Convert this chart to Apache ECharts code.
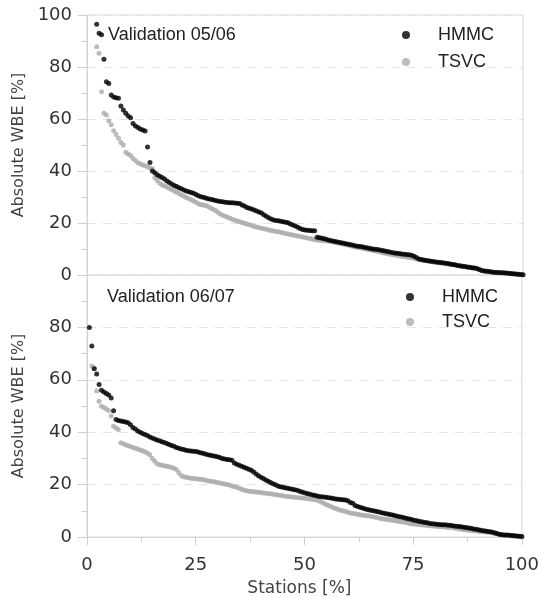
<!DOCTYPE html>
<html>
<head>
<meta charset="utf-8">
<script src="https://cdn.jsdelivr.net/npm/echarts@6/dist/echarts.min.js"></script>
<style>
html,body{margin:0;padding:0;background:#fff;}
#chart{width:542px;height:598px;}
</style>
</head>
<body>
<div id="chart"></div>
<script>
// Panel titles and series names
const panelTitles = ['Validation 05/06', 'Validation 06/07'];
const seriesNames = ['HMMC', 'TSVC'];
const xTicks = [0, 25, 50, 75, 100];
const yTicks = [0, 20, 40, 60, 80, 100];

// Absolute WBE [%] per station, sorted descending (station rank -> % of stations)
const topHMMC = [
  140, 120, 103, 96.4, 93.0, 92.4, 83.0, 74.3, 73.7, 69.2,
  68.5, 68.2, 68.0, 65.0, 63.5, 62.2, 61.2, 60.5, 58.3, 57.3,
  56.7, 56.2, 55.8, 55.4, 49.2, 43.3, 40.0, 39.3, 38.6, 38.0,
  37.5, 36.9, 36.2, 35.6, 35.0, 34.4, 34.0, 33.6, 33.2, 32.7,
  32.3, 32.0, 31.7, 31.4, 31.0, 30.5, 30.1, 29.9, 29.6, 29.3,
  29.1, 28.9, 28.7, 28.5, 28.3, 28.2, 28.0, 27.9, 27.8, 27.8,
  27.7, 27.6, 27.5, 26.9, 26.5, 26.0, 25.7, 25.4, 25.0, 24.6,
  24.2, 23.8, 23.2, 22.6, 22.0, 21.5, 21.2, 21.0, 20.9, 20.7,
  20.5, 20.3, 20.1, 19.6, 19.2, 18.8, 18.4, 17.9, 17.5, 17.3,
  17.2, 17.1, 17.0, 17.0, 14.5, 14.3, 14.1, 13.9, 13.7, 13.4,
  13.2, 13.0, 12.8, 12.6, 12.4, 12.2, 12.0, 11.8, 11.6, 11.4,
  11.2, 11.1, 11.0, 10.8, 10.6, 10.4, 10.2, 10.0, 9.9, 9.8,
  9.6, 9.4, 9.2, 9.0, 8.8, 8.7, 8.5, 8.4, 8.3, 8.1,
  8.0, 7.9, 7.8, 7.6, 7.2, 6.7, 6.2, 6.0, 5.8, 5.6,
  5.5, 5.3, 5.2, 5.0, 4.9, 4.8, 4.7, 4.5, 4.4, 4.2,
  4.0, 3.9, 3.7, 3.6, 3.4, 3.3, 3.1, 3.0, 2.8, 2.7,
  2.5, 2.1, 1.7, 1.5, 1.4, 1.3, 1.2, 1.1, 1.0, 1.0,
  0.9, 0.9, 0.8, 0.7, 0.6, 0.5, 0.4, 0.3, 0.2, 0.1
];
const topTSVC = [
  135, 118, 104, 87.8, 85.3, 70.5, 62.2, 61.5, 59.3, 57.8,
  55.5, 54.0, 52.6, 51.0, 50.0, 47.2, 46.5, 46.0, 44.8, 44.0,
  43.2, 42.8, 42.3, 42.0, 41.6, 41.2, 40.9, 37.4, 36.3, 35.3,
  34.6, 34.2, 33.8, 33.3, 32.8, 32.3, 31.8, 31.3, 30.8, 30.3,
  29.8, 29.4, 28.9, 28.5, 28.0, 27.4, 27.0, 26.9, 26.7, 26.3,
  25.8, 25.3, 24.8, 24.1, 23.5, 23.0, 22.6, 22.2, 21.8, 21.4,
  21.1, 20.8, 20.5, 20.2, 19.9, 19.6, 19.3, 19.0, 18.7, 18.5,
  18.3, 18.0, 17.8, 17.6, 17.3, 17.1, 16.9, 16.7, 16.6, 16.4,
  16.2, 16.0, 15.8, 15.6, 15.4, 15.2, 15.0, 14.8, 14.6, 14.4,
  14.2, 14.0, 13.8, 13.6, 13.5, 13.4, 13.3, 13.2, 13.1, 13.0,
  12.8, 12.6, 12.4, 12.2, 12.0, 11.8, 11.6, 11.4, 11.2, 11.0,
  10.8, 10.6, 10.4, 10.2, 10.0, 9.8, 9.6, 9.4, 9.2, 9.0,
  8.8, 8.6, 8.4, 8.2, 8.0, 7.9, 7.7, 7.5, 7.3, 7.2,
  7.0, 6.9, 6.7, 6.6, 6.4, 6.2, 6.0, 5.8, 5.6, 5.5,
  5.3, 5.2, 5.0, 4.9, 4.8, 4.6, 4.5, 4.3, 4.2, 4.0,
  3.9, 3.8, 3.6, 3.5, 3.3, 3.2, 3.0, 2.9, 2.7, 2.6,
  2.4, 2.0, 1.7, 1.5, 1.4, 1.3, 1.2, 1.1, 1.0, 0.9,
  0.9, 0.8, 0.7, 0.6, 0.5, 0.4, 0.3, 0.3, 0.2, 0.1
];
const botHMMC = [
  80.0, 72.9, 64.2, 62.2, 58.2, 56.0, 55.3, 54.8, 54.2, 53.1,
  48.2, 44.8, 44.5, 44.3, 44.1, 43.9, 43.6, 42.8, 41.8, 41.2,
  40.5, 40.0, 39.5, 39.1, 38.7, 38.2, 37.8, 37.4, 37.0, 36.7,
  36.4, 36.1, 35.7, 35.3, 34.9, 34.6, 34.2, 33.9, 33.6, 33.4,
  33.1, 32.9, 32.8, 32.7, 32.6, 32.4, 32.2, 32.0, 31.7, 31.4,
  31.2, 31.0, 30.8, 30.6, 30.3, 30.0, 29.8, 29.6, 29.5, 29.3,
  28.2, 27.8, 27.4, 27.0, 26.6, 26.2, 25.9, 25.5, 24.8, 24.0,
  23.4, 22.8, 22.3, 21.8, 21.3, 20.8, 20.3, 19.9, 19.5, 19.2,
  19.0, 18.8, 18.6, 18.4, 18.2, 18.0, 17.8, 17.5, 17.2, 16.9,
  16.6, 16.4, 16.1, 15.9, 15.7, 15.5, 15.4, 15.3, 15.2, 15.0,
  14.9, 14.7, 14.5, 14.4, 14.3, 14.2, 14.1, 13.8, 13.2, 12.9,
  12.0, 11.6, 11.4, 11.1, 10.8, 10.5, 10.3, 10.1, 9.9, 9.7,
  9.5, 9.3, 9.1, 8.9, 8.7, 8.5, 8.3, 8.0, 7.8, 7.6,
  7.4, 7.2, 7.0, 6.8, 6.5, 6.3, 6.1, 5.9, 5.7, 5.5,
  5.4, 5.2, 5.1, 5.0, 4.9, 4.8, 4.7, 4.7, 4.6, 4.5,
  4.4, 4.2, 4.1, 4.0, 3.9, 3.7, 3.6, 3.4, 3.3, 3.1,
  3.0, 2.8, 2.6, 2.4, 2.3, 2.1, 2.0, 1.8, 1.5, 1.2,
  1.0, 0.9, 0.8, 0.8, 0.7, 0.6, 0.5, 0.4, 0.3, 0.2
];
const botTSVC = [
  104, 65.3, 64.5, 55.7, 51.8, 49.9, 49.4, 48.9, 48.3, 46.2,
  42.3, 41.6, 41.0, 36.0, 35.6, 35.2, 34.8, 34.5, 34.2, 33.9,
  33.6, 33.2, 32.9, 32.5, 32.0, 31.4, 30.0, 29.0, 28.0, 27.6,
  27.4, 27.2, 27.0, 26.8, 26.5, 26.2, 25.8, 24.5, 23.5, 23.0,
  22.8, 22.6, 22.4, 22.3, 22.2, 22.1, 22.0, 21.9, 21.7, 21.5,
  21.3, 21.2, 21.0, 20.8, 20.6, 20.4, 20.2, 20.0, 19.8, 19.5,
  19.2, 19.0, 18.6, 18.2, 17.9, 17.7, 17.5, 17.4, 17.3, 17.2,
  17.1, 17.0, 16.8, 16.7, 16.6, 16.5, 16.3, 16.2, 16.0, 15.9,
  15.7, 15.6, 15.5, 15.4, 15.3, 15.2, 15.1, 15.0, 14.9, 14.8,
  14.7, 14.5, 14.4, 14.3, 14.1, 13.8, 13.4, 12.9, 12.4, 12.0,
  11.6, 11.2, 10.9, 10.5, 10.2, 10.0, 9.7, 9.4, 9.2, 9.0,
  8.9, 8.7, 8.5, 8.3, 8.2, 8.1, 8.0, 7.8, 7.6, 7.4,
  7.2, 7.0, 6.9, 6.7, 6.6, 6.4, 6.3, 6.1, 6.0, 5.8,
  5.7, 5.5, 5.3, 5.1, 5.0, 4.9, 4.8, 4.7, 4.6, 4.5,
  4.4, 4.3, 4.2, 4.1, 4.0, 3.9, 3.9, 3.8, 3.7, 3.6,
  3.5, 3.4, 3.2, 3.1, 3.0, 2.8, 2.7, 2.6, 2.5, 2.4,
  2.3, 2.2, 2.1, 2.0, 1.9, 1.8, 1.7, 1.5, 1.3, 1.1,
  0.9, 0.8, 0.7, 0.6, 0.5, 0.4, 0.3, 0.3, 0.2, 0.1
];

// station rank -> percentage of stations
function toPoints(vals) {
  const n = vals.length;
  return vals.map((v, i) => [(i + 1) * 100 / n, v]);
}

const BLACK = '#000000';
const GRAY = '#ababab';
const AXIS_FONT = 'DejaVu Sans';
const TEXT_FONT = 'Liberation Sans';

const yAxisBase = (gridIndex, hideTop) => ({
  type: 'value', gridIndex: gridIndex, min: yTicks[0], max: yTicks[yTicks.length - 1], interval: 20,
  name: 'Absolute WBE [%]', nameLocation: 'middle', nameGap: 60,
  nameTextStyle: { fontFamily: AXIS_FONT, fontSize: 16, color: '#444' },
  axisLine: { show: true, lineStyle: { color: '#d4d4d4', width: 1 } },
  axisTick: { show: true, length: 9, lineStyle: { color: '#cfcfcf' } },
  minorTick: { show: true, splitNumber: 2, length: 5, lineStyle: { color: '#cfcfcf' } },
  axisLabel: {
    fontFamily: AXIS_FONT, fontSize: 18, color: '#333', margin: 15,
    formatter: v => (hideTop && v === 100) ? '' : String(v)
  },
  splitLine: { show: true, lineStyle: { color: '#e4e4e4', type: [9, 7], width: 1 } }
});

const option = {
  animation: false,
  backgroundColor: '#ffffff',
  title: [
    { text: panelTitles[0], left: 108, top: 26, padding: 0,
      textStyle: { fontFamily: TEXT_FONT, fontSize: 18, fontWeight: 'normal', color: '#222' } },
    { text: panelTitles[1], left: 107, top: 288, padding: 0,
      textStyle: { fontFamily: TEXT_FONT, fontSize: 18, fontWeight: 'normal', color: '#222' } }
  ],
  legend: [
    { data: seriesNames, orient: 'vertical', left: 402, top: 26, padding: 0,
      icon: 'circle', itemWidth: 54, itemHeight: 8, itemGap: 9, selectedMode: false,
      textStyle: { fontFamily: TEXT_FONT, fontSize: 18, color: '#222' } },
    { data: seriesNames, orient: 'vertical', left: 406, top: 288, padding: 0,
      icon: 'circle', itemWidth: 54, itemHeight: 8, itemGap: 7, selectedMode: false,
      textStyle: { fontFamily: TEXT_FONT, fontSize: 18, color: '#222' } }
  ],
  grid: [
    { left: 87, top: 15, width: 436, height: 260, show: true, borderColor: '#d8d8d8', borderWidth: 1, backgroundColor: 'transparent' },
    { left: 87, top: 275, width: 436, height: 262, show: true, borderColor: '#d8d8d8', borderWidth: 1, backgroundColor: 'transparent' }
  ],
  xAxis: [
    { type: 'value', gridIndex: 0, min: xTicks[0], max: xTicks[xTicks.length - 1], interval: 25,
      axisLine: { show: false }, axisTick: { show: false }, axisLabel: { show: false }, splitLine: { show: false } },
    { type: 'value', gridIndex: 1, min: xTicks[0], max: xTicks[xTicks.length - 1], interval: 25,
      name: 'Stations [%]', nameLocation: 'middle', nameGap: 43,
      nameTextStyle: { fontFamily: AXIS_FONT, fontSize: 17, color: '#444', padding: [0, 10, 0, 0] },
      axisLine: { show: true, lineStyle: { color: '#d4d4d4', width: 1 } },
      axisTick: { show: true, length: 8, lineStyle: { color: '#cfcfcf' } },
      minorTick: { show: true, splitNumber: 2, length: 5, lineStyle: { color: '#cfcfcf' } },
      axisLabel: { fontFamily: AXIS_FONT, fontSize: 18, color: '#333', margin: 19 },
      splitLine: { show: false } }
  ],
  yAxis: [ yAxisBase(0, false), yAxisBase(1, true) ],
  series: [
    { name: seriesNames[1], type: 'scatter', xAxisIndex: 0, yAxisIndex: 0, data: toPoints(topTSVC),
      symbol: 'circle', symbolSize: 5, clip: true, itemStyle: { color: GRAY } },
    { name: seriesNames[0], type: 'scatter', xAxisIndex: 0, yAxisIndex: 0, data: toPoints(topHMMC),
      symbol: 'circle', symbolSize: 5, clip: true, itemStyle: { color: BLACK } },
    { name: seriesNames[1], type: 'scatter', xAxisIndex: 1, yAxisIndex: 1, data: toPoints(botTSVC),
      symbol: 'circle', symbolSize: 5, clip: true, itemStyle: { color: GRAY } },
    { name: seriesNames[0], type: 'scatter', xAxisIndex: 1, yAxisIndex: 1, data: toPoints(botHMMC),
      symbol: 'circle', symbolSize: 5, clip: true, itemStyle: { color: BLACK } }
  ]
};

const chart = echarts.init(document.getElementById('chart'), null, { renderer: 'canvas' });
chart.setOption(option);
</script>
</body>
</html>
